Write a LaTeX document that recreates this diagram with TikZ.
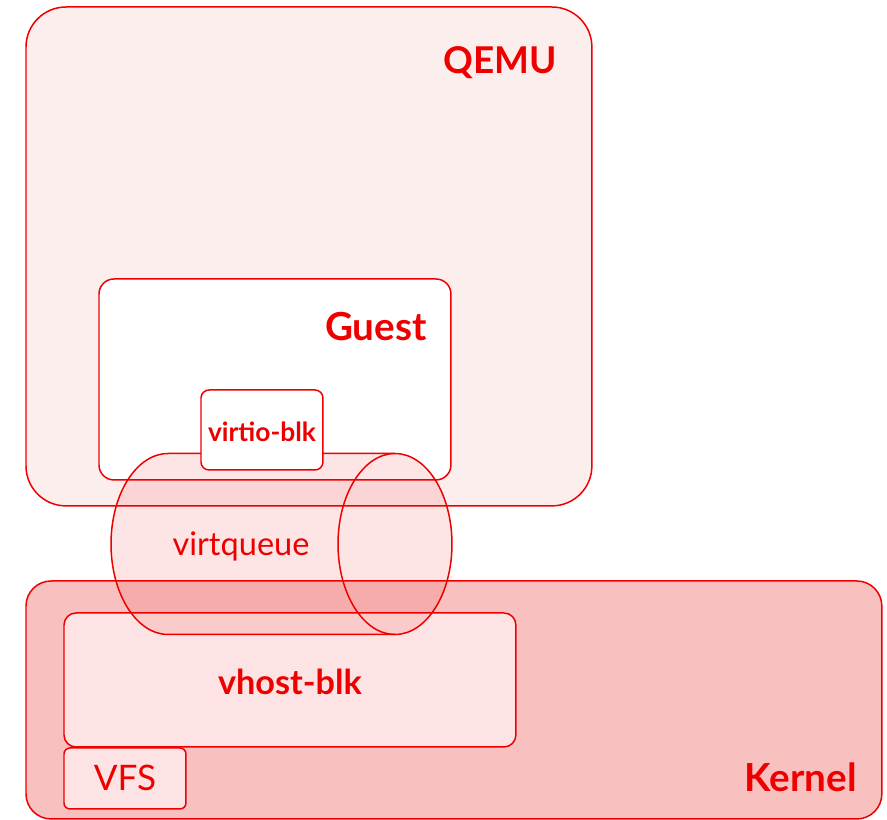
\documentclass[tikz,border=0pt]{standalone}
\usepackage{fontspec}
\setmainfont{Lato}
\usepackage{tikz}
\usetikzlibrary{positioning, calc}
\usepackage{xcolor}
\definecolor{rhred}{HTML}{EE0000}
\definecolor{qemufill}{HTML}{FDEEEE}
\definecolor{kernfill}{HTML}{F9C0C0}
\definecolor{modfill}{HTML}{FDE3E3}

\begin{document}
\begin{tikzpicture}[
    x=0.02cm, y=-0.02cm,
    box/.style={draw=rhred, line width=0.85pt, anchor=north west,
                inner sep=0pt, outer sep=0pt},
    title/.style={text=rhred, inner sep=0pt, font=\fontsize{22}{25}\selectfont\bfseries},
    modlabel/.style={text=rhred, inner sep=0pt}
]
\useasboundingbox (0,0) rectangle (887,820);

% QEMU and guest
\node[box, fill=qemufill, rounded corners=0.8cm,
      minimum width=11.32cm, minimum height=9.98cm] (qemu) at (26,7) {};
\node[title, anchor=east, font=\fontsize{21}{24}\selectfont\bfseries] (qemutext) at (557,63) {QEMU};
\node[box, fill=white, rounded corners=0.3cm,
      minimum width=7.04cm, minimum height=4.02cm] (guest) at (99,279) {};
\node[title, anchor=east] (guesttext) at (427,327) {Guest};

% Kernel side
\node[box, fill=kernfill, rounded corners=0.5cm,
      minimum width=17.12cm, minimum height=4.76cm] (kernel) at (26,581) {};
\node[title, anchor=east] (kerneltext) at (857,777) {Kernel};
\node[box, fill=modfill, rounded corners=0.24cm,
      minimum width=9.04cm, minimum height=2.68cm] (vhost) at (64,613) {};
\node[modlabel, font=\fontsize{19.5}{22}\selectfont\bfseries] (vhosttext) at (290,682) {vhost-blk};
\node[box, fill=modfill, rounded corners=0.12cm,
      minimum width=2.44cm, minimum height=1.22cm] (vfs) at (64,748) {};
\node[modlabel, font=\fontsize{20}{23}\selectfont] (vfstext) at (125,778) {VFS};

% the virtqueue tube
\coordinate (lend) at (168,544);
\coordinate (rend) at (395,544);
\fill[rhred, fill opacity=0.1]
  ($(rend)+(0,-90.5)$) -- ($(lend)+(0,-90.5)$)
  arc[start angle=90, end angle=270, x radius=1.14cm, y radius=1.81cm]
  -- ($(rend)+(0,90.5)$)
  arc[start angle=270, end angle=450, x radius=1.14cm, y radius=1.81cm] -- cycle;
\draw[rhred, line width=0.85pt]
  ($(rend)+(0,-90.5)$) -- ($(lend)+(0,-90.5)$)
  arc[start angle=90, end angle=270, x radius=1.14cm, y radius=1.81cm]
  -- ($(rend)+(0,90.5)$);
\draw[rhred, line width=0.85pt] (rend) ellipse[x radius=1.14cm, y radius=1.81cm];
\node[modlabel, font=\fontsize{18.5}{21}\selectfont] (vqtext) at (241,546) {virtqueue};

\node[box, fill=white, rounded corners=0.16cm,
      minimum width=2.44cm, minimum height=1.6cm] (virtio) at (201,390) {};
\node[modlabel, font=\fontsize{15}{18}\selectfont\bfseries] (virtiotext) at (262,432) {virtio-blk};
\end{tikzpicture}
\end{document}
